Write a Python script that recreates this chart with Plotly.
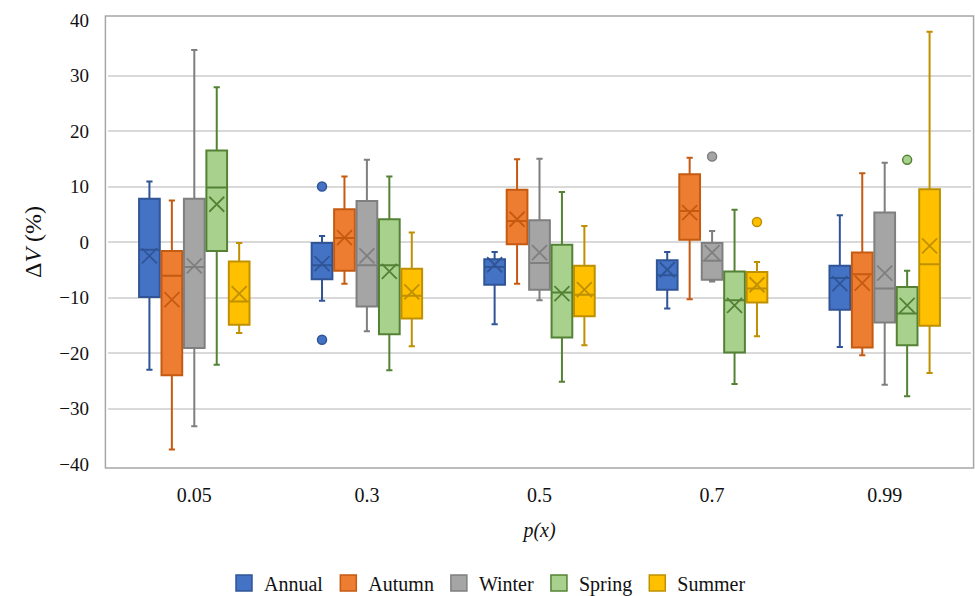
import plotly.graph_objects as go

categories = ["0.05", "0.3", "0.5", "0.7", "0.99"]
series = ["Annual", "Autumn", "Winter", "Spring", "Summer"]

# per series: values for each category
lower = {
    "Annual": [-23.0, -10.6, -14.8, -12.0, -18.9],
    "Autumn": [-37.4, -7.5, -7.5, -10.3, -20.4],
    "Winter": [-33.2, -16.1, -10.5, -7.1, -25.7],
    "Spring": [-22.1, -23.1, -25.2, -25.6, -27.8],
    "Summer": [-16.4, -18.8, -18.6, -17.0, -23.6],
}
q1 = {
    "Annual": [-9.9, -6.7, -7.7, -8.6, -12.2],
    "Autumn": [-24.0, -5.2, -0.4, 0.4, -19.0],
    "Winter": [-19.1, -11.6, -8.6, -6.8, -14.5],
    "Spring": [-1.6, -16.6, -17.2, -19.9, -18.6],
    "Summer": [-14.9, -13.8, -13.4, -10.9, -15.1],
}
median = {
    "Annual": [-1.4, -4.2, -4.5, -6.0, -6.5],
    "Autumn": [-6.1, 0.7, 3.8, 5.6, -5.8],
    "Winter": [-4.5, -4.2, -3.8, -3.4, -8.4],
    "Spring": [9.8, -4.2, -9.1, -10.5, -12.9],
    "Summer": [-10.7, -9.7, -9.5, -8.4, -4.0],
}
q3 = {
    "Annual": [7.8, -0.2, -3.1, -3.3, -4.3],
    "Autumn": [-1.6, 5.9, 9.4, 12.2, -1.9],
    "Winter": [7.8, 7.4, 3.9, -0.2, 5.3],
    "Spring": [16.5, 4.1, -0.5, -5.3, -8.1],
    "Summer": [-3.5, -4.8, -4.3, -5.4, 9.5],
}
upper = {
    "Annual": [10.9, 1.1, -1.8, -1.8, 4.8],
    "Autumn": [7.5, 11.8, 14.9, 15.2, 12.4],
    "Winter": [34.6, 14.8, 15.0, 2.0, 14.3],
    "Spring": [27.9, 11.8, 9.0, 5.8, -5.2],
    "Summer": [-0.2, 1.7, 2.9, -3.6, 37.9],
}
mean = {
    "Annual": [-2.5, -3.9, -4.1, -5.0, -7.5],
    "Autumn": [-10.4, 0.8, 4.1, 5.3, -7.4],
    "Winter": [-4.3, -2.5, -1.9, -1.9, -5.6],
    "Spring": [6.8, -5.3, -9.3, -11.4, -11.4],
    "Summer": [-9.3, -9.0, -8.6, -7.7, -0.7],
}
# outliers: (category index, value)
outlier_cat = {
    "Annual": [1, 1],
    "Autumn": [],
    "Winter": [3],
    "Spring": [4],
    "Summer": [3],
}
outlier_val = {
    "Annual": [10.0, -17.6],
    "Autumn": [],
    "Winter": [15.4],
    "Spring": [14.8],
    "Summer": [3.6],
}

fills = {"Annual": "#4472C4", "Autumn": "#ED7D31", "Winter": "#A5A5A5",
         "Spring": "#A9D18E", "Summer": "#FFC000"}
lines = {"Annual": "#2F5597", "Autumn": "#C55A11", "Winter": "#7F7F7F",
         "Spring": "#548235", "Summer": "#BF9000"}

step = 0.13
bw = 0.12
font_family = "Liberation Serif, Times New Roman, serif"

fig = go.Figure()
for s_i, s in enumerate(series):
    off = (s_i - 2) * step
    xs = [i + off for i in range(len(categories))]
    fig.add_trace(go.Box(
        x=xs, q1=q1[s], median=median[s], q3=q3[s],
        lowerfence=lower[s], upperfence=upper[s],
        width=bw, whiskerwidth=0.3,
        fillcolor=fills[s], line=dict(color=lines[s], width=2),
        boxpoints=False, showlegend=False, name=s, hoverinfo="skip",
    ))
    fig.add_trace(go.Scatter(
        x=xs, y=mean[s], mode="markers", showlegend=False,
        marker=dict(symbol="x-thin-open", size=15, color=lines[s],
                    line=dict(color=lines[s], width=1.8)),
        hoverinfo="skip",
    ))
    if outlier_val[s]:
        fig.add_trace(go.Scatter(
            x=[c + off for c in outlier_cat[s]], y=outlier_val[s], mode="markers",
            showlegend=False,
            marker=dict(symbol="circle", size=9, color=fills[s],
                        line=dict(color=lines[s], width=1.5)),
            hoverinfo="skip",
        ))
    fig.add_trace(go.Scatter(
        x=[None], y=[None], mode="markers", name=s,
        marker=dict(symbol="square", size=18, color=fills[s],
                    line=dict(color=lines[s], width=1.5)),
    ))

fig.add_shape(type="rect", xref="paper", yref="paper",
              x0=-0.003, x1=1.003, y0=-0.009, y1=1.009,
              line=dict(color="#A6A6A6", width=1.5), layer="above")

fig.update_layout(
    width=975, height=596,
    margin=dict(l=108, r=4, t=20, b=132),
    paper_bgcolor="white", plot_bgcolor="white",
    boxmode="overlay",
    font=dict(family=font_family, size=20, color="#111"),
    xaxis=dict(
        range=[-0.5, 4.5], tickmode="array",
        tickvals=list(range(len(categories))), ticktext=categories,
        showgrid=False, zeroline=False, ticks="", ticklabelstandoff=17,
        tickfont=dict(size=20), automargin=False,
        title=dict(text="<i>p(x)</i>", font=dict(size=20), standoff=17),
    ),
    yaxis=dict(
        range=[-40, 40], dtick=10, showgrid=True, gridcolor="#D9D9D9",
        gridwidth=2, zeroline=False, ticks="", ticklabelstandoff=18,
        tickfont=dict(size=19), automargin=False,
        title=dict(text="Δ<i>V</i> (%)", font=dict(size=24), standoff=10),
    ),
    legend=dict(orientation="h", x=0.5, xanchor="center", xref="container",
                y=0.022, yanchor="middle", yref="container",
                font=dict(size=20), itemwidth=30, tracegroupgap=0),
    showlegend=True,
)

fig.write_html("out.html", config={"displayModeBar": False},
               post_script="document.body.style.margin='0';document.body.style.overflow='hidden';")
